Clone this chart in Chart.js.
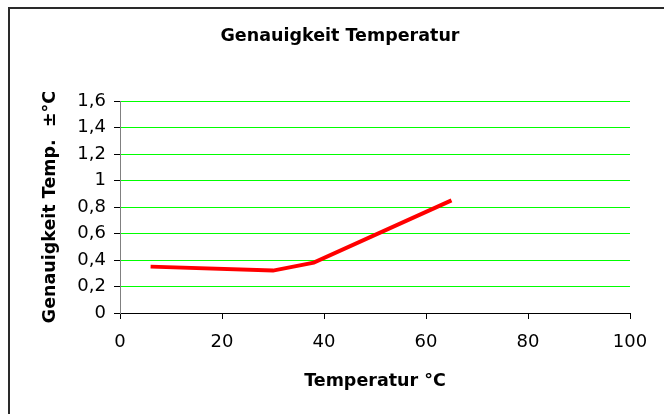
<!DOCTYPE html>
<html>
<head>
<meta charset="utf-8">
<script src="https://cdn.jsdelivr.net/npm/chart.js@4"></script>
<style>
  html, body { margin: 0; padding: 0; background: #fff; }
  #wrap { position: relative; width: 664px; height: 414px; overflow: hidden; }
  #frame {
    position: absolute; left: 8px; top: 7px; width: 700px; height: 450px;
    border-left: 2px solid #2a2a2a; border-top: 2px solid #2a2a2a;
  }
  #chart { position: absolute; left: 0; top: 0; }
</style>
</head>
<body>
<div id="wrap">
  <div id="frame"></div>
  <canvas id="chart" width="664" height="414"></canvas>
</div>
<script>
// data
const temperatures = [6, 30, 38, 65];
const accuracy = [0.35, 0.32, 0.38, 0.85];

const xTicks = [0, 20, 40, 60, 80, 100];
const yTicks = [0, 0.2, 0.4, 0.6, 0.8, 1, 1.2, 1.4, 1.6];

const chartTitle = 'Genauigkeit Temperatur';
const xTitle = 'Temperatur °C';
const yTitle = 'Genauigkeit Temp.  ±°C';

const FONT = 'DejaVu Sans';

function plotAccuracy(element) {
  const ctx = document.getElementById(element).getContext('2d');

  const points = temperatures.map((t, i) => ({ x: t, y: accuracy[i] }));

  const myChart = new Chart(ctx, {
    type: 'scatter',
    data: {
      datasets: [{
        data: points,
        showLine: true,
        borderColor: '#ff0000',
        backgroundColor: '#ff0000',
        borderWidth: 4,
        pointRadius: 0,
        tension: 0
      }]
    },
    options: {
      responsive: false,
      animation: false,
      // left padding 50 so the title centres over x=340 like the original
      layout: { padding: { left: 50, right: 34, top: 0, bottom: 0 } },
      scales: {
        x: {
          type: 'linear',
          min: xTicks[0],
          max: xTicks[xTicks.length - 1],
          afterBuildTicks: scale => { scale.ticks = xTicks.map(v => ({ value: v })); },
          afterFit: scale => { scale.height = 101; },
          ticks: {
            color: '#000',
            font: { family: FONT, size: 18 },
            padding: 13
          },
          grid: {
            drawOnChartArea: false,
            drawTicks: true,
            tickLength: 6,
            tickColor: '#000'
          },
          border: { color: '#000', width: 1 },
          title: {
            display: true,
            text: xTitle,
            color: '#000',
            font: { family: FONT, size: 17.5, weight: 'bold' },
            padding: { top: 0, bottom: 22.5 }
          }
        },
        y: {
          type: 'linear',
          min: yTicks[0],
          max: yTicks[yTicks.length - 1],
          afterBuildTicks: scale => { scale.ticks = yTicks.map(v => ({ value: v })); },
          afterFit: scale => { scale.width = 70; },
          ticks: {
            color: '#000',
            font: { family: FONT, size: 18 },
            padding: 8,
            callback: v => String(Math.round(v * 10) / 10).replace('.', ',')
          },
          grid: {
            color: '#00ff00',
            lineWidth: 1,
            tickLength: 6,
            tickColor: '#000'
          },
          border: { color: '#808080', width: 1 },
          title: {
            display: true,
            text: yTitle,
            color: '#000',
            font: { family: FONT, size: 17.5, weight: 'bold' },
            padding: { top: -10.5, bottom: 0 }
          }
        }
      },
      plugins: {
        legend: { display: false },
        tooltip: { enabled: false },
        title: {
          display: true,
          text: chartTitle,
          color: '#000',
          font: { family: FONT, size: 17.5, weight: 'bold' },
          padding: { top: 25.5, bottom: 54.5 }
        }
      }
    }
  });

  return myChart;
}

plotAccuracy('chart');
</script>
</body>
</html>
